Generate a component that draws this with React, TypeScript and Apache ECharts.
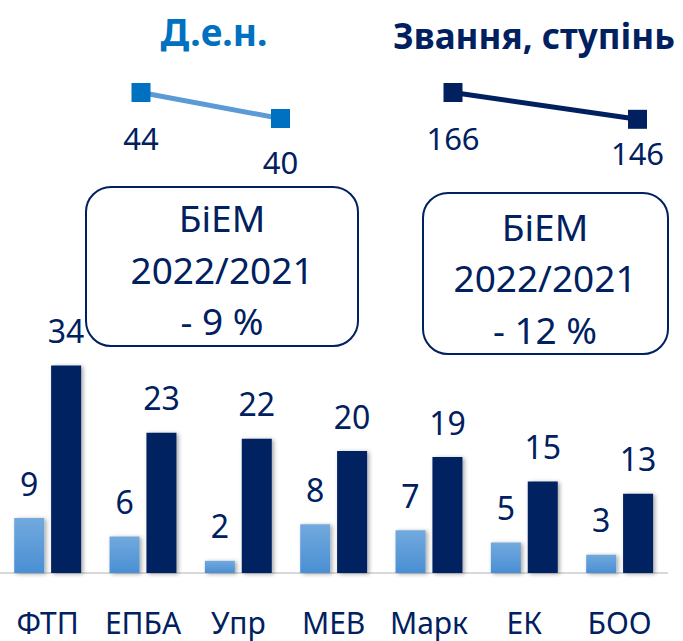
import React, { useEffect, useRef } from "react";
import * as echarts from "echarts";

const categories = ["ФТП", "ЕПБА", "Упр", "МЕВ", "Марк", "ЕК", "БОО"];
const denValues = [9, 6, 2, 8, 7, 5, 3];
const rankValues = [34, 23, 22, 20, 19, 15, 13];
const years = ["2021", "2022"];
const denTotals = [44, 40];
const rankTotals = [166, 146];
const titleDen = "Д.е.н.";
const titleRank = "Звання, ступінь";
const boxDen = ["БіЕМ", "2022/2021", "- 9 %"];
const boxRank = ["БіЕМ", "2022/2021", "- 12 %"];

const NAVY = "#002060";
const FONT = "'Noto Sans', 'Open Sans', sans-serif";

export default function App() {
  const ref = useRef<HTMLDivElement>(null);
  useEffect(() => {
    if (!ref.current) return;
    const chart = echarts.init(ref.current, null, { renderer: "svg" });

    const boxText = (lines: string[], cx: number, cy: number) =>
      lines.map((t, i) => ({
        type: "text",
        x: cx,
        y: cy + (i - 1) * 51.5,
        style: {
          text: t,
          fill: NAVY,
          font: `37px ${FONT}`,
          align: "center",
          verticalAlign: "middle",
        },
      }));

    chart.setOption({
      animation: false,
      backgroundColor: "#ffffff",
      textStyle: { fontFamily: FONT },
      grid: [
        { left: -2.3, width: 669.6, top: 329, height: 244 },
        { left: 141, width: 139.5, top: 66.5, height: 78 },
        { left: 453, width: 184.5, top: 79.1, height: 53.6 },
      ],
      xAxis: [
        {
          gridIndex: 0,
          type: "category",
          data: categories,
          axisLine: { lineStyle: { color: "#D9D9D9", width: 2 } },
          axisTick: { show: false },
          axisLabel: {
            color: NAVY,
            fontSize: 30,
            lineHeight: 30,
            fontFamily: FONT,
            margin: 34,
            interval: 0,
          },
        },
        { gridIndex: 1, type: "category", data: years, boundaryGap: false, show: false },
        { gridIndex: 2, type: "category", data: years, boundaryGap: false, show: false },
      ],
      yAxis: [
        { gridIndex: 0, type: "value", min: 0, max: 40, show: false, splitLine: { show: false } },
        { gridIndex: 1, type: "value", min: 36, max: 48, show: false, splitLine: { show: false } },
        { gridIndex: 2, type: "value", min: 136, max: 176, show: false, splitLine: { show: false } },
      ],
      series: [
        {
          name: titleDen,
          type: "bar",
          xAxisIndex: 0,
          yAxisIndex: 0,
          data: denValues,
          barWidth: 30,
          barGap: "23%",
          itemStyle: {
            color: new echarts.graphic.LinearGradient(0, 0, 0, 1, [
              { offset: 0, color: "#72A9DD" },
              { offset: 1, color: "#4A8FD4" },
            ]),
            shadowColor: "rgba(0,0,0,0.35)",
            shadowBlur: 4,
            shadowOffsetX: 2,
            shadowOffsetY: 1,
          },
          label: { show: true, position: "top", distance: 19, color: NAVY, fontSize: 32, fontFamily: FONT },
        },
        {
          name: titleRank,
          type: "bar",
          xAxisIndex: 0,
          yAxisIndex: 0,
          data: rankValues,
          barWidth: 30,
          itemStyle: {
            color: NAVY,
            shadowColor: "rgba(0,0,0,0.35)",
            shadowBlur: 4,
            shadowOffsetX: 2,
            shadowOffsetY: 1,
          },
          label: { show: true, position: "top", distance: 19, color: NAVY, fontSize: 32, fontFamily: FONT },
        },
        {
          name: titleDen + " total",
          type: "line",
          xAxisIndex: 1,
          yAxisIndex: 1,
          data: [
            { value: denTotals[0], label: { distance: 20 } },
            { value: denTotals[1], label: { distance: 18 } },
          ],
          symbol: "rect",
          symbolSize: 19,
          lineStyle: { color: "#5B9BD5", width: 5 },
          itemStyle: { color: "#0070C0" },
          label: { show: true, position: "bottom", color: NAVY, fontSize: 31, fontFamily: FONT },
        },
        {
          name: titleRank + " total",
          type: "line",
          xAxisIndex: 2,
          yAxisIndex: 2,
          data: [
            { value: rankTotals[0], label: { distance: 20 } },
            { value: rankTotals[1], label: { distance: 9 } },
          ],
          symbol: "rect",
          symbolSize: 19,
          lineStyle: { color: NAVY, width: 5 },
          itemStyle: { color: NAVY },
          label: { show: true, position: "bottom", color: NAVY, fontSize: 31, fontFamily: FONT },
        },
      ],
      graphic: [
        {
          type: "text",
          x: 214,
          y: 31,
          style: {
            text: titleDen,
            fill: "#0070C0",
            font: `bold 37px ${FONT}`,
            align: "center",
            verticalAlign: "middle",
          },
        },
        {
          type: "text",
          x: 534,
          y: 35,
          style: {
            text: titleRank,
            fill: NAVY,
            font: `bold 35px ${FONT}`,
            align: "center",
            verticalAlign: "middle",
          },
        },
        {
          type: "rect",
          shape: { x: 86, y: 187, width: 272, height: 159, r: 25 },
          style: { fill: "none", stroke: NAVY, lineWidth: 2 },
        },
        {
          type: "rect",
          shape: { x: 423, y: 193, width: 245, height: 161, r: 25 },
          style: { fill: "none", stroke: NAVY, lineWidth: 2 },
        },
        ...boxText(boxDen, 222, 269),
        ...boxText(boxRank, 545, 277.5),
      ],
    });

    return () => chart.dispose();
  }, []);

  return (
    <div
      ref={ref}
      style={{ position: "fixed", left: 0, top: 0, width: 683, height: 641 }}
    />
  );
}
